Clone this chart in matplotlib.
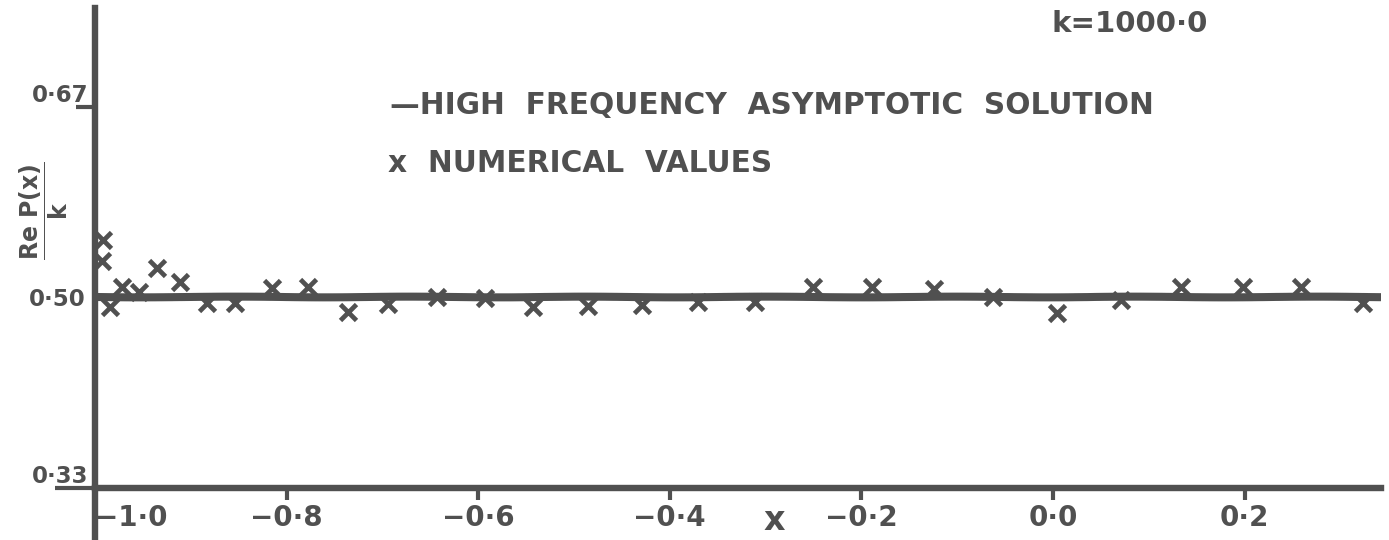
"""
Hand-drawn style re-plot: Re P(x)/k against x for k = 1000.0
High frequency asymptotic solution (line) vs numerical values (crosses).
"""
import matplotlib
matplotlib.use('Agg')
import matplotlib.pyplot as plt

# ── config ──────────────────────────────────────────────────────────────────
INK = '#505050'
plt.rcParams['font.family'] = ['DejaVu Sans']
plt.rcParams['font.weight'] = 'bold'
plt.rcParams['mathtext.fontset'] = 'dejavusans'

# ── data ────────────────────────────────────────────────────────────────────
asym_x = [-1.0, 0.342]
asym_y = [0.50, 0.50]

num_x = [-0.992, -0.993, -0.984, -0.972, -0.954, -0.935, -0.911, -0.883,
         -0.854, -0.815, -0.778, -0.736, -0.694, -0.643, -0.593, -0.543,
         -0.485, -0.429, -0.371, -0.311, -0.251, -0.189, -0.124, -0.063,
         0.004, 0.071, 0.134, 0.198, 0.259, 0.324]
num_y = [0.551, 0.532, 0.491, 0.509, 0.505, 0.526, 0.514, 0.495,
         0.495, 0.508, 0.509, 0.487, 0.494, 0.500, 0.499, 0.491,
         0.492, 0.493, 0.496, 0.496, 0.509, 0.509, 0.507, 0.500,
         0.486, 0.498, 0.509, 0.509, 0.509, 0.495]

xticks = [-1.0, -0.8, -0.6, -0.4, -0.2, 0.0, 0.2]
xtick_labels = ['−1·0', '−0·8', '−0·6', '−0·4', '−0·2', '0·0', '0·2']
yticks = [0.33, 0.67]
ytick_labels = ['0·33', '0·67']
ymid_ticks = [0.50]
ymid_labels = ['0·50']

XLIM = (-1.0, 0.342)
YLIM = (0.2836, 0.758)

# ── figure ──────────────────────────────────────────────────────────────────
fig = plt.figure(figsize=(13.89, 5.40), dpi=100)
ax = fig.add_axes([95 / 1389, 0.0, 1285.6 / 1389, 532 / 540])
ax.set_xlim(*XLIM)
ax.set_ylim(*YLIM)

line, = ax.plot(asym_x, asym_y, color=INK, lw=5.8, solid_capstyle='butt')
line.set_sketch_params(scale=0.35, length=200, randomness=2)
ax.plot(num_x, num_y, ls='none', marker='x', ms=11, mew=3.4, color=INK,
        clip_on=False)

# -- axes drawn like the hand sketch (crossing at x=-1.0, y=0.33)
for s in ('top', 'right'):
    ax.spines[s].set_visible(False)
ax.spines['bottom'].set_position(('data', 0.33))
for s in ('left', 'bottom'):
    ax.spines[s].set_linewidth(4.6)
    ax.spines[s].set_color(INK)

ax.set_xticks(xticks, xtick_labels)
ax.tick_params(axis='x', direction='out', length=8.5, width=3, color=INK,
               pad=3, labelsize=20, labelcolor=INK)
ax.get_xticklabels()[0].set_ha('left')

ax.set_yticks(yticks, ytick_labels)
ax.set_yticks(ymid_ticks, ymid_labels, minor=True)
ax.tick_params(axis='y', which='major', direction='out', length=14, width=3,
               color=INK, pad=-9, labelsize=16.5, labelcolor=INK)
ax.tick_params(axis='y', which='minor', length=0, pad=7, labelsize=16.5,
               labelcolor=INK)
for lab in ax.get_yticklabels():
    lab.set_va('bottom')
ax.yaxis.get_major_ticks()[0].tick1line.set_markersize(29)

# -- axis labels
ax.set_xlabel('x', fontsize=24, fontweight='bold', color=INK, va='center')
ax.xaxis.set_label_coords((774 - 95) / 1285.6, (540 - 521) / 532)
ax.set_ylabel(r'$\dfrac{\mathbf{Re\ P(x)}}{\mathbf{k}}$', fontsize=17,
              color=INK, va='center', ha='center')
ax.yaxis.set_label_coords((44 - 95) / 1285.6, (540 - 211) / 532)

# -- hand-written legend and title
fig.text(390 / 1389, 1 - 106 / 540, '—HIGH  FREQUENCY  ASYMPTOTIC  SOLUTION',
         fontsize=21.3, color=INK, va='center', ha='left')
fig.text(388 / 1389, 1 - 163 / 540, 'x  NUMERICAL  VALUES',
         fontsize=21.3, color=INK, va='center', ha='left')
fig.text(1052 / 1389, 1 - 24 / 540, 'k=1000·0',
         fontsize=21, color=INK, va='center', ha='left')

fig.savefig('out.png', dpi=100)
